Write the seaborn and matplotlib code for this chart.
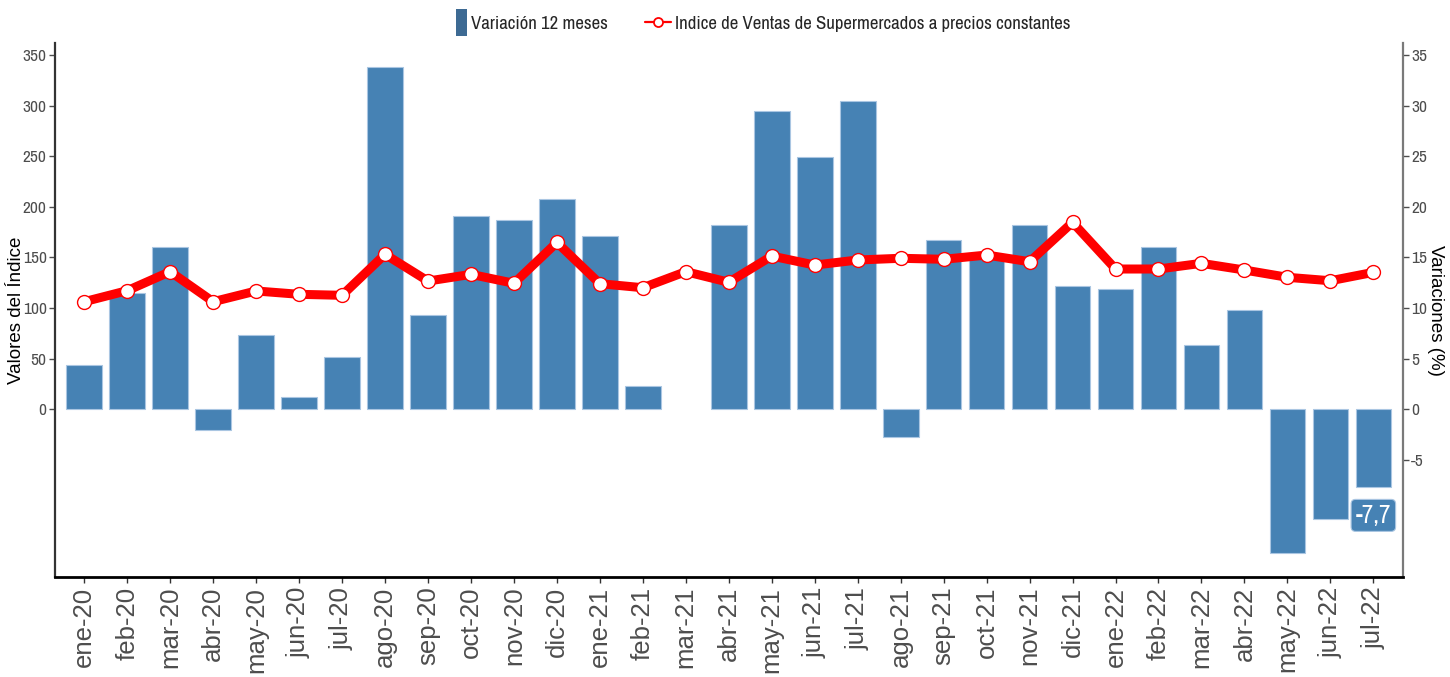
import numpy as np
import pandas as pd
import matplotlib
matplotlib.use("Agg")
import matplotlib.pyplot as plt
import seaborn as sns
from matplotlib.lines import Line2D
from matplotlib.patches import Patch, Rectangle
from matplotlib.legend_handler import HandlerPatch
from matplotlib import font_manager as fm

# ---------------- data ----------------
months = ["ene-20", "feb-20", "mar-20", "abr-20", "may-20", "jun-20", "jul-20", "ago-20",
          "sep-20", "oct-20", "nov-20", "dic-20", "ene-21", "feb-21", "mar-21", "abr-21",
          "may-21", "jun-21", "jul-21", "ago-21", "sep-21", "oct-21", "nov-21", "dic-21",
          "ene-22", "feb-22", "mar-22", "abr-22", "may-22", "jun-22", "jul-22"]

variacion = [4.4, 11.5, 16.0, -2.0, 7.3, 1.2, 5.2, 33.8, 9.3, 19.1, 18.7, 20.8,
             17.1, 2.3, np.nan, 18.2, 29.5, 24.9, 30.5, -2.7, 16.7, 15.0, 18.2, 12.2,
             11.9, 16.0, 6.4, 9.8, -14.2, -10.8, -7.7]

indice = [106.3, 117.2, 136.0, 106.3, 116.9, 113.6, 112.6, 153.1, 126.7, 133.3, 124.5, 164.8,
          124.1, 120.1, 136.0, 125.5, 151.4, 142.5, 147.5, 149.2, 148.2, 152.4, 145.8, 184.7,
          138.6, 138.6, 144.2, 137.6, 130.4, 127.0, 135.3]

left_ticks = [0, 50, 100, 150, 200, 250, 300, 350]
right_ticks = [-5, 0, 5, 10, 15, 20, 25, 30, 35]

legend_labels = ["Variación 12 meses", "Indice de Ventas de Supermercados a precios constantes"]
ylabel_left = "Valores del Índice"
ylabel_right = "Variaciones (%)"

df = pd.DataFrame({"mes": months, "variacion": variacion, "indice": indice})

# ---------------- style ----------------
sns.set_style("ticks")
plt.rcParams["axes.unicode_minus"] = False


def pick(names, fallback):
    for name in names:
        try:
            fm.findfont(fm.FontProperties(family=name), fallback_to_default=False)
            return name
        except Exception:
            pass
    return fallback


sans = pick(["Liberation Sans", "Arimo"], "DejaVu Sans")
narrow = pick(["Liberation Sans Narrow", "Arial Narrow", "Archivo Narrow"], sans)
plt.rcParams["font.family"] = [sans, "DejaVu Sans"]
NARROW = [narrow, "DejaVu Sans"]

BAR = "#4682B4"
BAR_EDGE = "#aac6e2"

fig = plt.figure(figsize=(14.5, 6.77), dpi=100)
ax = fig.add_axes([55 / 1450, 1 - 577 / 677, (1403 - 55) / 1450, (577 - 43) / 677])
ax2 = ax.twinx()

# bars (percentage variation) on the right axis
sns.barplot(data=df, x="mes", y="variacion", order=months, ax=ax2, color=BAR,
            saturation=1, width=0.83, edgecolor=BAR_EDGE, linewidth=0.8, errorbar=None)

# index line on the left axis
sns.pointplot(data=df, x="mes", y="indice", order=months, ax=ax, color="red",
              markers="o", linestyles="-", errorbar=None)
for ln in ax.lines:
    ln.set_linewidth(6.5)
    ln.set_color("red")
    ln.set_markersize(10)
    ln.set_markerfacecolor("white")
    ln.set_markeredgecolor("red")
    ln.set_markeredgewidth(1.0)
    ln.set_solid_joinstyle("round")
    ln.set_zorder(5)

ax.set_zorder(ax2.get_zorder() + 1)
ax.patch.set_visible(False)

ylo, yhi = -165.7, 361.9
ax.set_ylim(ylo, yhi)
ax2.set_ylim(ylo / 10, yhi / 10)
ax.set_xlim(-0.68, 30.69)

ax.set_yticks(left_ticks)
ax.set_yticklabels([str(t) for t in left_ticks])
ax2.set_yticks(right_ticks)
ax2.set_yticklabels([str(t) for t in right_ticks])

ax.set_xticks(range(len(months)))
ax.set_xticklabels(months, rotation=90)
ax.set_xlabel("")
ax2.set_xlabel("")

for t in ax.get_xticklabels():
    t.set_fontsize(18.5)
    t.set_color("#4d4d4d")
for t in ax.get_yticklabels() + ax2.get_yticklabels():
    t.set_fontsize(12.5)
    t.set_color("#4d4d4d")
    t.set_family(NARROW)

ax.set_ylabel(ylabel_left, fontsize=13.5, color="black")
ax2.set_ylabel(ylabel_right, fontsize=13.5, color="black", rotation=270, va="center")
ax.yaxis.set_label_coords(-(55 - 25) / 1348, 0.5)
ax2.yaxis.set_label_coords(1 + (1436 - 1403) / 1348, 0.5)

ax.tick_params(axis="y", left=True, length=4, width=1, color="#4d4d4d", pad=2)
ax.tick_params(axis="x", bottom=True, length=4, width=1, color="#333333", pad=3)
ax2.tick_params(axis="y", right=True, length=4, width=1, color="#4d4d4d", pad=2)

for a in (ax, ax2):
    for s in a.spines.values():
        s.set_visible(False)
ax.spines["left"].set_visible(True)
ax.spines["left"].set_color("#333333")
ax.spines["left"].set_linewidth(1.6)
ax.spines["bottom"].set_visible(True)
ax.spines["bottom"].set_color("black")
ax.spines["bottom"].set_linewidth(2)
ax2.spines["right"].set_visible(True)
ax2.spines["right"].set_color("#7a7a7a")
ax2.spines["right"].set_linewidth(1.6)

# label of the last value
last_val = variacion[-1]
ax2.annotate(f"{last_val:.1f}".replace(".", ","), xy=(len(months) - 1, last_val),
             xytext=(0, -12), textcoords="offset points", ha="center", va="top",
             color="white", fontsize=18, family=NARROW,
             bbox=dict(boxstyle="round,pad=0.18", fc=BAR, ec=BAR_EDGE, lw=0.8),
             zorder=6)


def narrow_rect(legend, orig_handle, xdescent, ydescent, width, height, fontsize):
    w = width * 0.42
    return Rectangle((-xdescent + width - w, -ydescent - height * 0.3), w, height * 1.6)


handles = [Patch(facecolor="#3d6a93", edgecolor="none"),
           Line2D([0], [0], color="red", lw=1.6, marker="o", ms=6.5,
                  mfc="white", mec="red", mew=1.3)]
fig.legend(handles, legend_labels, loc="upper center", bbox_to_anchor=(0.521, 1.004),
           ncol=2, frameon=False, prop={"family": NARROW, "size": 13.5},
           handlelength=1.4, handleheight=1.0, handletextpad=0.2, columnspacing=2.0,
           handler_map={Patch: HandlerPatch(patch_func=narrow_rect)})

fig.savefig("out.png", dpi=100, facecolor="white")
